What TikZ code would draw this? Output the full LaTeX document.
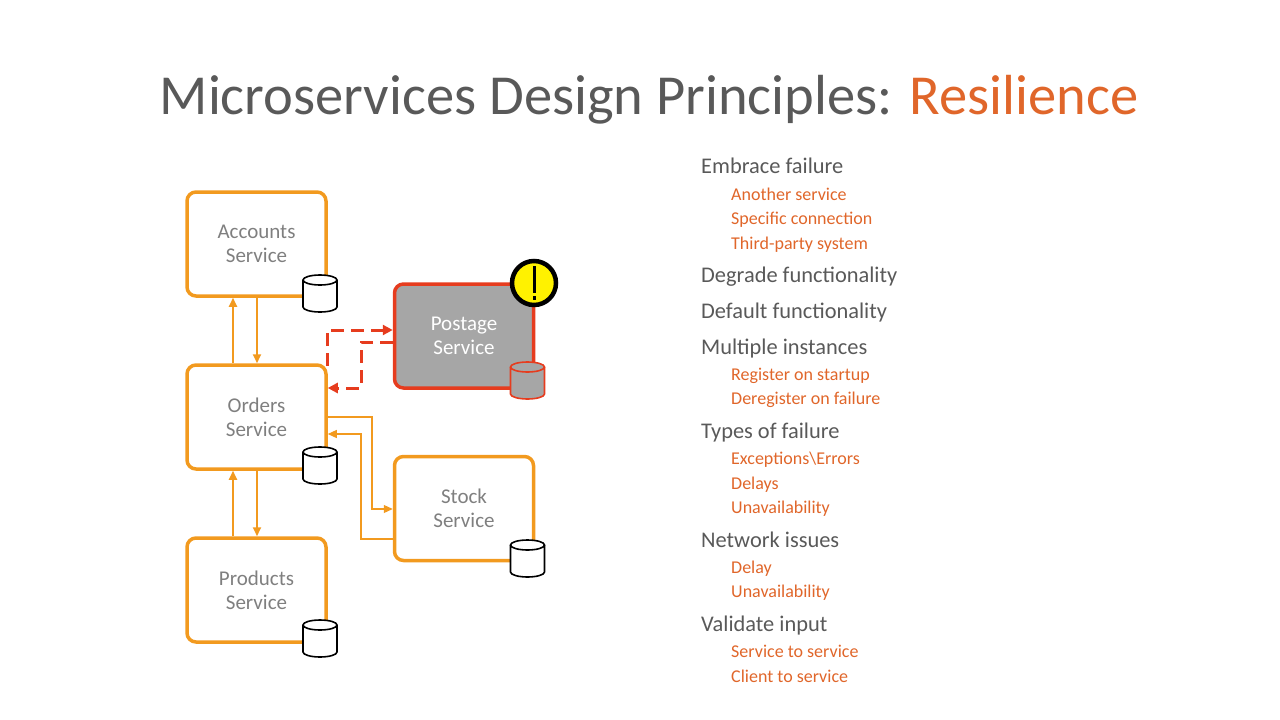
\documentclass[tikz,border=0pt]{standalone}
\usepackage{fontspec}
\setmainfont{Carlito}
\usetikzlibrary{arrows.meta}
\definecolor{org}{HTML}{F29A1F}
\definecolor{rd}{HTML}{E63C1E}
\definecolor{ttl}{HTML}{595959}
\definecolor{accent}{HTML}{E0662A}
\definecolor{boxtxt}{HTML}{7F7F7F}
\tikzset{
 svc/.style={draw=org,line width=3.5pt,rounded corners=9pt,minimum width=139pt,minimum height=104pt,inner sep=0pt,align=center,text=boxtxt,font=\fontsize{21}{24}\selectfont},
 con/.style={draw=org,line width=1.8pt,-{Triangle[length=9pt,width=8pt]}},
 con2/.style={draw=org,line width=1.2pt,-{Triangle[length=9pt,width=8pt]}},
 dsh/.style={draw=rd,line width=3pt,dash pattern=on 13pt off 7pt,-{Triangle[length=10pt,width=10pt]}},
 lone/.style={anchor=base west,text=ttl,font=\fontsize{22.4}{24}\selectfont,inner sep=0pt},
 ltwo/.style={anchor=base west,text=accent,font=\fontsize{18}{20}\selectfont,inner sep=0pt},
}
\newcommand{\dbcyl}[4]{% x y fill stroke
 \fill[#3] (#1-17,#2-5) -- (#1-17,#2+22) arc[start angle=180,end angle=0,x radius=17,y radius=5] -- (#1+17,#2-5) arc[start angle=0,end angle=-180,x radius=17,y radius=5] -- cycle;
 \draw[line width=1.6pt,draw=#4] (#1-17,#2-5) -- (#1-17,#2+22) arc[start angle=180,end angle=0,x radius=17,y radius=5] -- (#1+17,#2-5);
 \draw[line width=1.6pt,draw=#4] (#1,#2-5) ellipse[x radius=17,y radius=5];}
\begin{document}
\begin{tikzpicture}[x=1pt,y=-1pt]
\useasboundingbox (0,0) rectangle (1280,720);
\node[anchor=base,font=\fontsize{56.5}{60}\selectfont,inner sep=0pt] (title) at (649,114) {\textcolor{ttl}{Microservices Design Principles:} \textcolor{accent}{Resilience}};

\node[svc] (acc) at (256.5,244) {Accounts\\Service};
\node[svc] (ord) at (256.5,417) {Orders\\Service};
\node[svc] (prd) at (256.5,590) {Products\\Service};
\node[svc,draw=rd,fill=black!35,text=white] (pos) at (464,336) {Postage\\Service};
\node[svc] (stk) at (464,508.5) {Stock\\Service};

\dbcyl{320}{285}{white}{black}
\dbcyl{320}{457}{white}{black}
\dbcyl{320}{630}{white}{black}
\dbcyl{527.5}{372}{black!35}{rd}
\dbcyl{527.5}{550}{white}{black}

\node[circle,fill=yellow,draw=black,line width=4.5pt,minimum size=44pt,inner sep=0pt] (warn) at (534,283) {};
\fill (532.5,266) rectangle (535.5,293);
\fill (532.5,296) rectangle (535.5,300);

\draw[con] (acc.south -| 257,0) -- (ord.north -| 257,0);
\draw[con] (ord.north -| 233,0) -- (acc.south -| 233,0);
\draw[con] (ord.south -| 257,0) -- (prd.north -| 257,0);
\draw[con] (prd.north -| 233,0) -- (ord.south -| 233,0);

\coordinate (d1) at (327,366);
\draw[dsh] (d1) -- (327,330) -- (pos.west |- 0,330);
\draw[dsh] (pos.west |- 0,342) -- (361,342) -- (361,388) -- (ord.east |- 0,388);

\draw[con2] (ord.east |- 0,417) -- (372,417) -- (372,509) -- (stk.west |- 0,509);
\draw[con2] (stk.west |- 0,539) -- (361,539) -- (361,434) -- (ord.east |- 0,434);

\node[lone] (e1) at (701,173) {Embrace failure};
\node[ltwo] (e1a) at (731,200) {Another service};
\node[ltwo] (e1b) at (731,224) {Specific connection};
\node[ltwo] (e1c) at (731,249) {Third-party system};
\node[lone] (e2) at (701,282) {Degrade functionality};
\node[lone] (e3) at (701,318) {Default functionality};
\node[lone] (e4) at (701,354) {Multiple instances};
\node[ltwo] (e4a) at (731,380) {Register on startup};
\node[ltwo] (e4b) at (731,404) {Deregister on failure};
\node[lone] (e5) at (701,438) {Types of failure};
\node[ltwo] (e5a) at (731,464) {Exceptions\textbackslash Errors};
\node[ltwo] (e5b) at (731,489) {Delays};
\node[ltwo] (e5c) at (731,513) {Unavailability};
\node[lone] (e6) at (701,547) {Network issues};
\node[ltwo] (e6a) at (731,573) {Delay};
\node[ltwo] (e6b) at (731,597) {Unavailability};
\node[lone] (e7) at (701,631) {Validate input};
\node[ltwo] (e7a) at (731,657) {Service to service};
\node[ltwo] (e7b) at (731,682) {Client to service};
\end{tikzpicture}
\end{document}
